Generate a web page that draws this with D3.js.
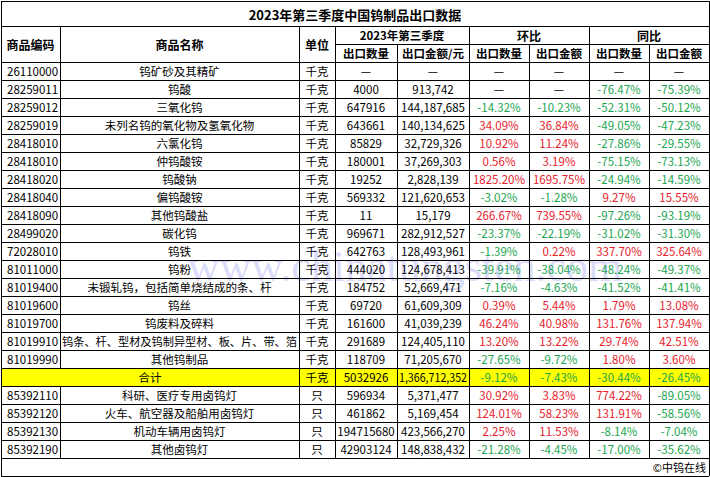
<!DOCTYPE html>
<html><head><meta charset="utf-8">
<script src="https://cdn.jsdelivr.net/npm/d3@7"></script>
<style>body{margin:0;background:#fff}</style></head>
<body><svg id="c" width="710" height="477"></svg>
<script>
const title = "2023年第三季度中国钨制品出口数据";
const codes = ["26110000","28259011","28259012","28259019","28418010","28418010","28418020","28418040","28418090","28499020","72028010","81011000","81019400","81019600","81019700","81019910","81019990","","85392110","85392120","85392130","85392190"];
const names = ["钨矿砂及其精矿","钨酸","三氧化钨","未列名钨的氧化物及氢氧化物","六氯化钨","仲钨酸铵","钨酸钠","偏钨酸铵","其他钨酸盐","碳化钨","钨铁","钨粉","未锻轧钨，包括简单烧结成的条、杆","钨丝","钨废料及碎料","钨条、杆、型材及钨制异型材、板、片、带、箔","其他钨制品","合计","科研、医疗专用卤钨灯","火车、航空器及船舶用卤钨灯","机动车辆用卤钨灯","其他卤钨灯"];
const units = ["千克","千克","千克","千克","千克","千克","千克","千克","千克","千克","千克","千克","千克","千克","千克","千克","千克","千克","只","只","只","只"];
const qty = ["—","4000","647916","643661","85829","180001","19252","569332","11","969671","642763","444020","184752","69720","161600","291689","118709","5032926","596934","461862","194715680","42903124"];
const amount = ["—","913,742","144,187,685","140,134,625","32,729,326","37,269,303","2,828,139","121,620,653","15,179","282,912,527","128,493,961","124,678,413","52,669,471","61,609,309","41,039,239","124,405,110","71,205,670","1,366,712,352","5,371,477","5,169,454","423,566,270","148,838,432"];
const qoqQty = ["—","—","-14.32%","34.09%","10.92%","0.56%","1825.20%","-3.02%","266.67%","-23.37%","-1.39%","-39.91%","-7.16%","0.39%","46.24%","13.20%","-27.65%","-9.12%","30.92%","124.01%","2.25%","-21.28%"];
const qoqAmt = ["—","—","-10.23%","36.84%","11.24%","3.19%","1695.75%","-1.28%","739.55%","-22.19%","0.22%","-38.04%","-4.63%","5.44%","40.98%","13.22%","-9.72%","-7.43%","3.83%","58.23%","11.53%","-4.45%"];
const yoyQty = ["—","-76.47%","-52.31%","-49.05%","-27.86%","-75.15%","-24.94%","9.27%","-97.26%","-31.02%","337.70%","-48.24%","-41.52%","1.79%","131.76%","29.74%","1.80%","-30.44%","774.22%","131.91%","-8.14%","-17.00%"];
const yoyAmt = ["—","-75.39%","-50.12%","-47.23%","-29.55%","-73.13%","-14.59%","15.55%","-93.19%","-31.30%","325.64%","-49.37%","-41.41%","13.08%","137.94%","42.51%","3.60%","-26.45%","-89.05%","-58.56%","-7.04%","-35.62%"];
const headTop = ["商品编码","商品名称","单位","2023年第三季度","环比","同比"];
const headSub = ["出口数量","出口金额/元","出口数量","出口金额","出口数量","出口金额"];

const svg = d3.select("#c");
const edges = [1,60,299,335,397,469,529,589,649,709];
const font = "'Noto Sans CJK SC', 'Noto Sans', sans-serif";
const n = codes.length;
const y = d3.scaleBand().domain(d3.range(n)).range([62, 62+18*n]);
const cols = [codes,names,units,qty,amount,qoqQty,qoqAmt,yoyQty,yoyAmt];
const totalIdx = names.indexOf("合计");
const g = svg.append("g");
const txt = (x,yy,t,o={}) => {
  const el = g.append("text").attr("x",x).attr("y",yy).attr("text-anchor",o.a||"middle")
  .attr("dominant-baseline","central").attr("font-family",font).attr("font-size",o.s||12)
  .attr("font-weight",o.b?"bold":"normal").attr("fill",o.c||"#000").text(t);
  if(o.w && el.node().getComputedTextLength() > o.w) el.attr("textLength",o.w).attr("lengthAdjust","spacingAndGlyphs");
  return el;
};
g.append("rect").attr("x",edges[0]).attr("y",y(totalIdx)).attr("width",edges[9]-edges[0]).attr("height",18).attr("fill","#ffff00");
// watermark
g.append("text").attr("x",405).attr("y",281).attr("text-anchor","middle").attr("font-family","'Liberation Serif',serif")
  .attr("font-size",44).attr("fill","#8c8cf0").attr("opacity",0.3).text("www.chinatungsten.com");
const color = v => v.startsWith("-") ? "#1aa650" : (v==="—" ? "#000" : "#e8202a");
d3.range(n).forEach(i=>{
  const cy = y(i)+9;
  cols.forEach((col,j)=>{
    const v = col[i];
    if(i===totalIdx && j===0) return;
    let x=(edges[j]+edges[j+1])/2, a="middle";
    if(j===0){x=edges[0]+6;a="start";}
    if(i===totalIdx && j===1) x=(edges[0]+edges[2])/2;
    txt(x,cy,v,{a,s:11.5,c:j>=5?color(v):"#000",w:edges[j+1]-edges[j]-4});
  });
});
txt(355,14,title,{b:true,s:13});
[0,1,2].forEach(j=>txt((edges[j]+edges[j+1])/2,44,headTop[j],{b:true,s:12}));
txt((edges[3]+edges[5])/2,35,headTop[3],{b:true,s:11.5});
txt((edges[5]+edges[7])/2,35,headTop[4],{b:true,s:12});
txt((edges[7]+edges[9])/2,35,headTop[5],{b:true,s:12});
headSub.forEach((h,k)=>txt((edges[k+3]+edges[k+4])/2,53,h,{b:true,s:11.5,w:edges[k+4]-edges[k+3]-4}));
txt(706,467,"©中钨在线",{a:"end",s:11});
const L=(x1,y1,x2,y2)=>g.append("line").attr("x1",x1).attr("y1",y1).attr("x2",x2).attr("y2",y2).attr("stroke","#000").attr("stroke-width",1).attr("shape-rendering","crispEdges");
const bottom = 62+18*n;
L(edges[0],1,edges[9],1); L(edges[0],26,edges[9],26); L(edges[3],44,edges[9],44);
L(edges[0],1,edges[0],476); L(edges[9],1,edges[9],476); L(edges[0],476,edges[9],476);
d3.range(n+1).forEach(i=>L(edges[0],62+18*i,edges[9],62+18*i));
edges.slice(1,9).forEach((e,k)=>{
  const top = (k===3||k===5||k===7)?44:26;
  if(k===0){ L(e,26,e,y(totalIdx)); L(e,y(totalIdx)+18,e,bottom); }
  else L(e,top,e,bottom);
});
</script></body></html>
